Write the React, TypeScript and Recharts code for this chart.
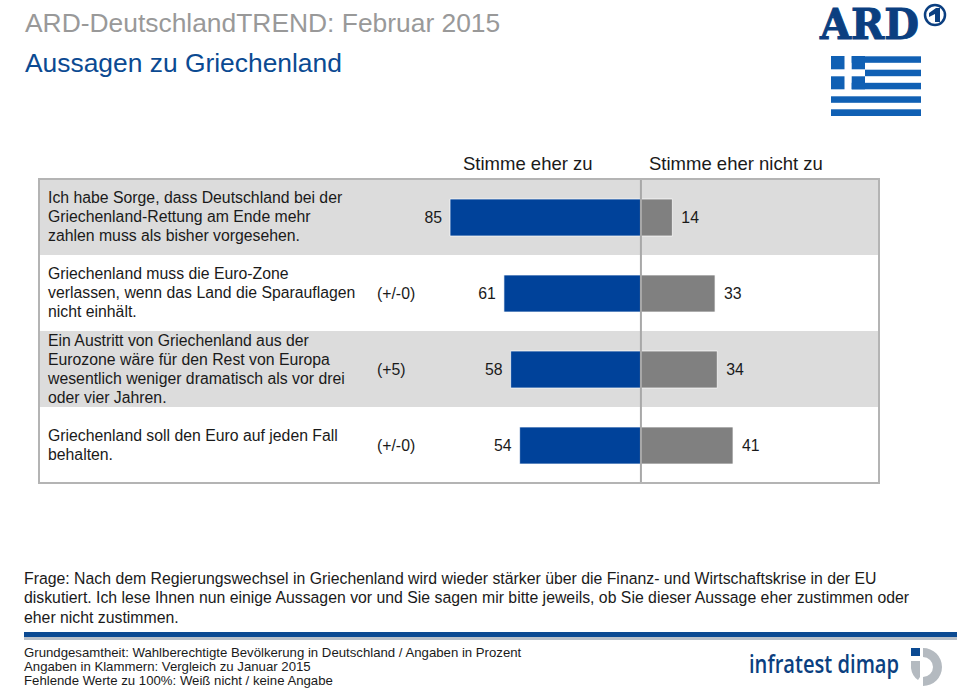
import { Bar, BarChart, LabelList, ReferenceArea, ReferenceLine, XAxis, YAxis } from "recharts";

const statements = [
  ["Ich habe Sorge, dass Deutschland bei der", "Griechenland-Rettung am Ende mehr", "zahlen muss als bisher vorgesehen."],
  ["Griechenland muss die Euro-Zone", "verlassen, wenn das Land die Sparauflagen", "nicht einhält."],
  ["Ein Austritt von Griechenland aus der", "Eurozone wäre für den Rest von Europa", "wesentlich weniger dramatisch als vor drei", "oder vier Jahren."],
  ["Griechenland soll den Euro auf jeden Fall", "behalten."],
];
const changes = ["", "(+/-0)", "(+5)", "(+/-0)"];
const agree = [85, 61, 58, 54];
const disagree = [14, 33, 34, 41];
const shadedRows = [0, 2];

const questionLines = [
  "Frage: Nach dem Regierungswechsel in Griechenland wird wieder stärker über die Finanz- und Wirtschaftskrise in der EU",
  "diskutiert. Ich lese Ihnen nun einige Aussagen vor und Sie sagen mir bitte jeweils, ob Sie dieser Aussage eher zustimmen oder",
  "eher nicht zustimmen.",
];
const noteLines = [
  "Grundgesamtheit: Wahlberechtigte Bevölkerung in Deutschland / Angaben in Prozent",
  "Angaben in Klammern: Vergleich zu Januar 2015",
  "Fehlende Werte zu 100%: Weiß nicht / keine Angabe",
];

const chartData = statements.map((_, i) => ({
  row: String(i),
  agree: -agree[i],
  disagree: disagree[i],
}));

const FONT = '"Liberation Sans", Arial, sans-serif';

function RowTick({ y, payload }: any) {
  const i = Number(payload.value);
  const lines = statements[i];
  const top = y - ((lines.length - 1) * 19) / 2;
  return (
    <g fontFamily={FONT} fontSize={15.8} fill="#1a1a1a">
      {lines.map((line, k) => (
        <text key={k} x={48} y={top + k * 19 + 5}>
          {line}
        </text>
      ))}
      <text x={377} y={y + 6}>
        {changes[i]}
      </text>
    </g>
  );
}

function text(left: number, top: number, size: number, color: string, content: string) {
  return (
    <div
      key={content}
      style={{
        position: "absolute",
        left,
        top,
        fontSize: size,
        lineHeight: `${size}px`,
        color,
        fontFamily: FONT,
        whiteSpace: "nowrap",
      }}
    >
      {content}
    </div>
  );
}

export default function App() {
  return (
    <div style={{ position: "absolute", left: 0, top: 0, width: 960, height: 691, background: "#fff", overflow: "hidden" }}>
      {text(25, 10, 26.4, "#999999", "ARD-DeutschlandTREND: Februar 2015")}
      {text(25, 50, 26.4, "#0b4a92", "Aussagen zu Griechenland")}
      {text(463, 155, 18.5, "#1a1a1a", "Stimme eher zu")}
      {text(649, 155, 18.5, "#1a1a1a", "Stimme eher nicht zu")}

      <BarChart
        width={960}
        height={691}
        data={chartData}
        layout="vertical"
        stackOffset="sign"
        barSize={37}
        margin={{ top: 179, right: 81, bottom: 208, left: 39 }}
        style={{ position: "absolute", left: 0, top: 0 }}
      >
        <XAxis type="number" domain={[-268, 106]} hide />
        <YAxis type="category" dataKey="row" width={60} mirror axisLine={false} tickLine={false} tick={RowTick} interval={0} />
        {shadedRows.map((i) => (
          <ReferenceArea key={i} y1={String(i)} y2={String(i)} fill="#dcdcdc" fillOpacity={1} stroke="none" />
        ))}
        <Bar dataKey="agree" stackId="a" fill="#00429a" stroke="#ffffff" strokeOpacity={0.7} isAnimationActive={false}>
          <LabelList dataKey="agree" position="right" offset={8} formatter={(v: any) => Math.abs(v)} fill="#1a1a1a" fontSize={15.8} fontFamily={FONT} />
        </Bar>
        <Bar dataKey="disagree" stackId="a" fill="#808080" stroke="#ffffff" strokeOpacity={0.7} isAnimationActive={false}>
          <LabelList dataKey="disagree" position="right" offset={9} fill="#1a1a1a" fontSize={15.8} fontFamily={FONT} />
        </Bar>
        <ReferenceLine x={0} stroke="#a8a8a8" strokeWidth={2} />
      </BarChart>

      <div style={{ position: "absolute", left: 38, top: 178, width: 838, height: 302, border: "2px solid #b4b4b4" }} />

      {questionLines.map((l, i) => text(24, 570.5 + i * 19.5, 15.82, "#1a1a1a", l))}
      <div style={{ position: "absolute", left: 24, top: 632, width: 933, height: 5, background: "#0b4a92" }} />
      <div style={{ position: "absolute", left: 24, top: 637, width: 933, height: 3, background: "#b9c0c8" }} />
      {noteLines.map((l, i) => text(24, 646 + i * 14.2, 13.2, "#1a1a1a", l))}

      {/* logos */}
      <svg width={960} height={691} style={{ position: "absolute", left: 0, top: 0 }}>
        <text x={820} y={39} fontFamily='"DejaVu Serif", serif' fontWeight={700} fontSize={42} fill="#0b3f80" stroke="#0b3f80" strokeWidth={1} textLength={99} lengthAdjust="spacingAndGlyphs">
          ARD
        </text>
        <circle cx={935} cy={15} r={10} fill="#fff" stroke="#0b3f80" strokeWidth={2.5} />
        <path d="M929 13 L936 8 L940 8 L940 22 L935 22 L935 14 L929 17 Z" fill="#0b3f80" />
        <g fill="#1060b4">
          <rect x={831} y={56} width={13.5} height={13.3} />
          <rect x={831} y={76.3} width={13.5} height={13} />
          <rect x={851.7} y={56} width={13.3} height={13.3} />
          <rect x={851.7} y={76.3} width={13.3} height={13} />
          <rect x={851.7} y={56.3} width={69.3} height={6.5} />
          <rect x={865} y={69.7} width={56} height={6.5} />
          <rect x={851.7} y={82.8} width={69.3} height={6.5} />
          <rect x={831} y={96.3} width={90} height={6.5} />
          <rect x={831} y={109.3} width={90} height={6.7} />
        </g>
        <text x={749} y={673} fontFamily='"Open Sans", sans-serif' fontWeight={600} fontSize={26} fill="#0b3f80" textLength={150} lengthAdjust="spacingAndGlyphs">
          infratest dimap
        </text>
        <rect x={911} y={648} width={9} height={8} fill="#0b4a92" />
        <path d="M911 661 H920 V677 L918 680 Q912 676 911 668 Z" fill="#b4bac0" />
        <path d="M923 648 A19 19 0 0 1 923 686 V677 A10 10 0 0 0 923 657 Z" fill="#b4bac0" />
      </svg>
    </div>
  );
}
